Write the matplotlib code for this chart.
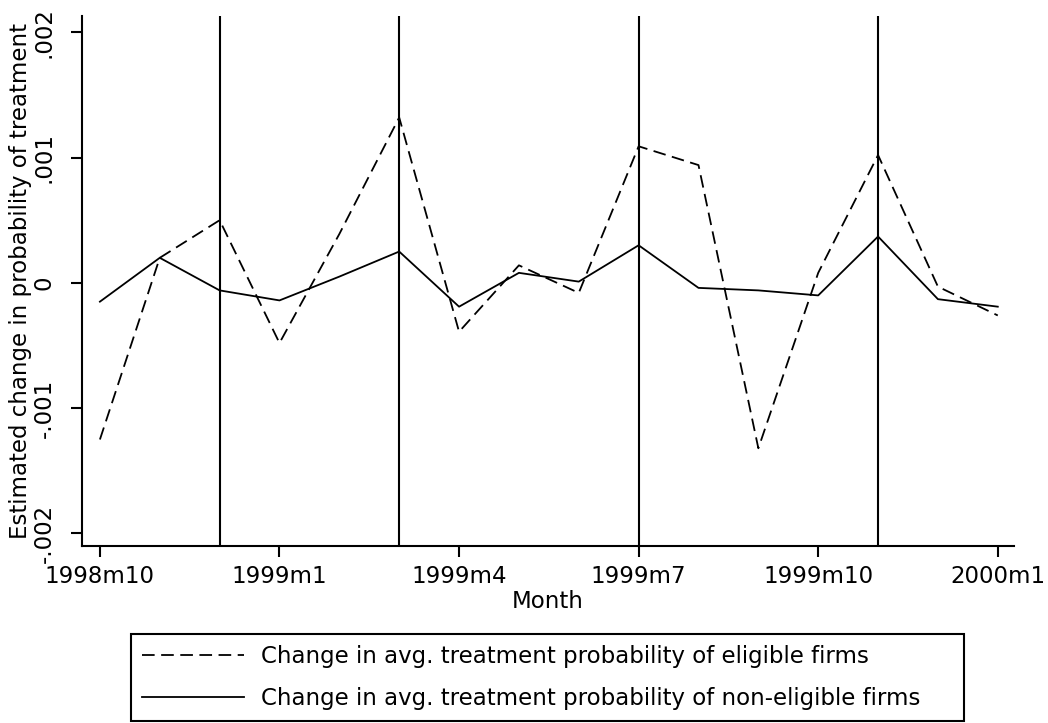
import matplotlib
matplotlib.use("Agg")
import matplotlib.pyplot as plt
import numpy as np

# monthly series, 1998m10 .. 2000m1
months = ["1998m10", "1998m11", "1998m12",
          "1999m1", "1999m2", "1999m3", "1999m4", "1999m5", "1999m6",
          "1999m7", "1999m8", "1999m9", "1999m10", "1999m11", "1999m12",
          "2000m1"]
eligible = [-0.00125, 0.00020, 0.00050, -0.00048, 0.00039, 0.00132,
            -0.00039, 0.00014, -0.00008, 0.00109, 0.00094, -0.00132,
            0.00008, 0.00102, -0.00003, -0.00026]
non_eligible = [-0.00015, 0.00020, -0.00006, -0.00014, 0.00005, 0.00025,
                -0.00019, 0.00008, 0.00001, 0.00030, -0.00004, -0.00006,
                -0.00010, 0.00037, -0.00013, -0.00019]
event_months = ["1998m12", "1999m3", "1999m7", "1999m11"]
tick_months = ["1998m10", "1999m1", "1999m4", "1999m7", "1999m10", "2000m1"]
ytick_vals = [-0.002, -0.001, 0.0, 0.001, 0.002]
ytick_labels = ["-.002", "-.001", "0", ".001", ".002"]

plt.rcParams['font.family'] = ['DejaVu Sans']
FS = 16.5

fig = plt.figure(figsize=(10.48, 7.23), dpi=100)
ax = fig.add_axes([0.0782, 0.2448, 0.8893, 0.7331])

x = np.arange(len(months))
ax.plot(x, eligible, color='black', lw=1.3, dashes=(7, 3.6),
        label="Change in avg. treatment probability of eligible firms")
ax.plot(x, non_eligible, color='black', lw=1.3,
        label="Change in avg. treatment probability of non-eligible firms")
for m in event_months:
    ax.axvline(months.index(m), color='black', lw=1.5)

ax.set_xlim(-0.3, 15.27)
ax.set_ylim(-0.0021, 0.00213)

ax.set_xticks([months.index(m) for m in tick_months])
ax.set_xticklabels(tick_months, fontsize=FS)
ax.set_yticks(ytick_vals)
ax.set_yticklabels(ytick_labels, fontsize=FS, rotation=90, va='center')

for side in ['top', 'right']:
    ax.spines[side].set_visible(False)
for side in ['left', 'bottom']:
    ax.spines[side].set_linewidth(1.5)
ax.tick_params(axis='both', direction='out', length=8, width=1.5, colors='black')
ax.tick_params(axis='x', pad=6)
ax.tick_params(axis='y', pad=11)

ax.set_xlabel("Month", fontsize=FS, labelpad=1)
ax.set_ylabel("Estimated change in probability of treatment", fontsize=FS)
ax.yaxis.set_label_coords(-0.054, 0.5)

leg = fig.legend(loc='center', mode='expand',
                 bbox_to_anchor=(131 / 1048, 1 - 721 / 723, 833 / 1048, 87 / 723),
                 borderaxespad=0, fontsize=FS, handlelength=4.45,
                 handletextpad=0.72, borderpad=0.5, labelspacing=0.8,
                 fancybox=False, framealpha=1, edgecolor='black')
leg.get_frame().set_linewidth(1.5)

fig.savefig("out.png", dpi=100, facecolor='white')
